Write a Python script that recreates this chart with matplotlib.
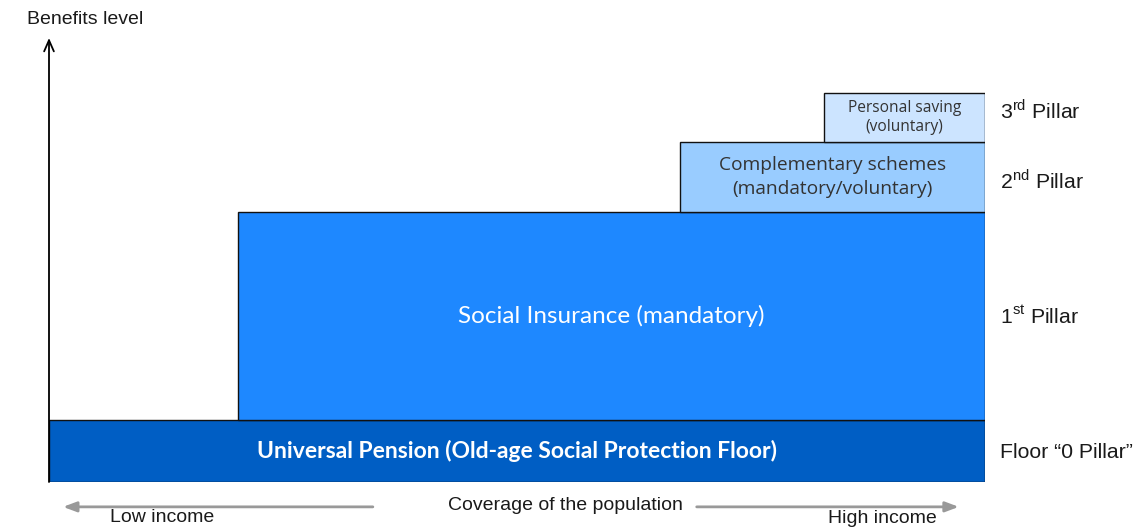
import matplotlib
matplotlib.use("Agg")
import matplotlib.pyplot as plt
from matplotlib.patches import Rectangle

plt.rcParams['mathtext.fontset'] = 'custom'
plt.rcParams['mathtext.rm'] = 'Liberation Sans'

# ---- data (coverage of population in %, benefit level in arbitrary units) ----
block_names = ["Universal Pension (Old-age Social Protection Floor)",
               "Social Insurance (mandatory)",
               "Complementary schemes\n(mandatory/voluntary)",
               "Personal saving\n(voluntary)"]
cov_start = [0.0, 20.2, 67.4, 82.8]
cov_end = [100.0, 100.0, 100.0, 100.0]
level_low = [0.0, 14.0, 60.8, 76.6]
level_high = [14.0, 60.8, 76.6, 87.6]
pillar_labels = ["Floor \u201c0 Pillar\u201d", "1$^{\\rm st}$ Pillar",
                 "2$^{\\rm nd}$ Pillar", "3$^{\\rm rd}$ Pillar"]
pillar_baseline = [5.4, 35.6, 66.2, 81.8]

colors = ["#005EC4", "#1E88FF", "#99CCFF", "#CCE4FF"]
text_colors = ["white", "white", "#333333", "#333333"]
fonts = [dict(family="Lato", size=16.5, weight="bold"),
         dict(family="Lato", size=17.5),
         dict(family="Open Sans", size=13.8),
         dict(family="Open Sans", size=11.2)]
spacings = [1.2, 1.2, 1.45, 1.25]

fig = plt.figure(figsize=(11.37, 5.31), dpi=100)
ax = fig.add_axes([49/1137, 49/531, 936/1137, 444/531])
ax.set_xlim(0, 100)
ax.set_ylim(0, 100)
ax.axis("off")

for i in range(len(block_names)):
    ax.add_patch(Rectangle((cov_start[i], level_low[i]),
                           cov_end[i] - cov_start[i], level_high[i] - level_low[i],
                           facecolor=colors[i], edgecolor="#111111", lw=1.0, zorder=2))
    cx = (cov_start[i] + cov_end[i]) / 2
    cy = (level_low[i] + level_high[i]) / 2
    ax.text(cx, cy, block_names[i], ha="center", va="center", color=text_colors[i],
            linespacing=spacings[i], zorder=3, **fonts[i])
    ax.text(101.6, pillar_baseline[i], pillar_labels[i], ha="left", va="baseline",
            color="#1a1a1a", family="Liberation Sans", size=15.3, clip_on=False)

# vertical axis arrow
ax.annotate("", xy=(0, 100), xytext=(0, 0),
            arrowprops=dict(arrowstyle="->,head_length=0.8,head_width=0.35",
                            color="black", lw=1.3, shrinkA=0, shrinkB=0),
            annotation_clip=False)
fig.text(27/1137, 1 - 19/531, "Benefits level", ha="left", va="center",
         family="Liberation Sans", size=14, color="#1a1a1a")

# horizontal coverage arrows
ybot = -5.6
ax.annotate("", xy=(1.5, ybot), xytext=(34.6, ybot),
            arrowprops=dict(arrowstyle="-|>,head_length=0.8,head_width=0.3",
                            color="#999999", lw=2, shrinkA=0, shrinkB=0),
            annotation_clip=False)
ax.annotate("", xy=(97.2, ybot), xytext=(69.2, ybot),
            arrowprops=dict(arrowstyle="-|>,head_length=0.8,head_width=0.3",
                            color="#999999", lw=2, shrinkA=0, shrinkB=0),
            annotation_clip=False)
ax.text(55.2, ybot + 0.4, "Coverage of the population", ha="center", va="center",
        family="Liberation Sans", size=14, color="#1a1a1a", clip_on=False)
ax.text(6.5, -8.1, "Low income", ha="left", va="center",
        family="Liberation Sans", size=14, color="#1a1a1a", clip_on=False)
ax.text(83.2, -8.3, "High income", ha="left", va="center",
        family="Liberation Sans", size=14, color="#1a1a1a", clip_on=False)

fig.savefig("out.png", dpi=100)
